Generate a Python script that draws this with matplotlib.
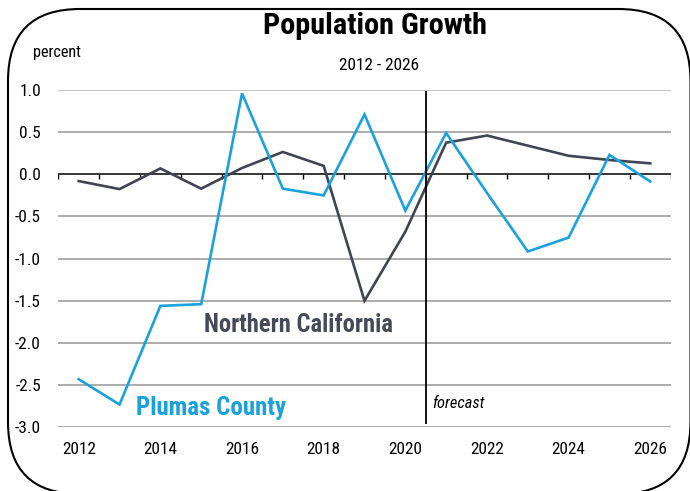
import matplotlib
matplotlib.use('Agg')
import matplotlib.pyplot as plt
from matplotlib import font_manager
from matplotlib.patches import FancyBboxPatch
from matplotlib.transforms import IdentityTransform

names = sorted({f.name for f in font_manager.fontManager.ttflist})
FONT = 'Liberation Sans'
for pref in ['Liberation Sans Narrow', 'Arial Narrow', 'Roboto Condensed',
             'Open Sans Condensed', 'DejaVu Sans Condensed']:
    if pref in names:
        FONT = pref
        break
else:
    for n in names:
        if 'Narrow' in n or 'Condensed' in n:
            FONT = n
            break
plt.rcParams['font.family'] = [FONT, 'DejaVu Sans']

# ---- data ----
years = list(range(2012, 2027))
plumas = [-2.43, -2.73, -1.56, -1.54, 0.96, -0.17, -0.25, 0.71, -0.43,
          0.49, -0.22, -0.915, -0.75, 0.23, -0.085]
norcal = [-0.08, -0.175, 0.07, -0.17, 0.075, 0.265, 0.10, -1.50, -0.68,
          0.375, 0.46, 0.34, 0.22, 0.17, 0.13]
xtick_years = [2012, 2014, 2016, 2018, 2020, 2022, 2024, 2026]
xtick_labels = [str(y) for y in xtick_years]
ytick_vals = [1.0, 0.5, 0.0, -0.5, -1.0, -1.5, -2.0, -2.5, -3.0]
ytick_labels = ['%.1f' % v for v in ytick_vals]
forecast_start = 2020.5

W, H = 690, 491
fig = plt.figure(figsize=(W / 100, H / 100), dpi=100)
ax = fig.add_axes([58.3 / W, 1 - 427.3 / H, (670.7 - 58.3) / W, (427.3 - 90) / H])
ax.set_xlim(2011.5, 2026.5)
ax.set_ylim(-3.0, 1.0)
for s in ax.spines.values():
    s.set_visible(False)

# gridlines
for v in ytick_vals:
    if v == 0:
        continue
    ax.axhline(v, color='#BFBFBF' if v == 1.0 else '#A6A6A6', lw=1.3, zorder=1)
ax.axhline(0, color='black', lw=1.1, zorder=2)
bounds = [2011.5 + k for k in range(len(years) + 1)]
ax.vlines(bounds, -0.06, 0, color='black', lw=1.0, zorder=2)

# series
ax.plot(years, plumas, color='#1BA1DC', lw=1.9, zorder=4, solid_joinstyle='miter')
ax.plot(years, norcal, color='#404553', lw=1.9, zorder=3, solid_joinstyle='miter')

# forecast line
ax.vlines(forecast_start, -2.965, 0.985, color='black', lw=1.3, zorder=5)

ax.set_xticks(xtick_years)
ax.set_xticklabels(xtick_labels)
ax.set_yticks(ytick_vals)
ax.set_yticklabels(ytick_labels)
ax.tick_params(axis='both', length=0, labelsize=11.5, colors='black')
ax.tick_params(axis='x', pad=10.5)
ax.tick_params(axis='y', pad=12.5)

def px(x, y):
    return x / W, 1 - y / H

t_title = fig.text(*px(375, 34), 'Population Growth', ha='center', va='baseline',
                   fontsize=18, fontweight='bold')
t_sub = fig.text(*px(379, 66), '2012 - 2026', ha='center', va='center', fontsize=11)
t_pct = fig.text(*px(32.7, 57.5), 'percent', ha='left', va='baseline', fontsize=11)

t_nc = ax.text(204, H - 331.5, 'Northern California', color='#454A58', fontsize=16,
               fontweight='bold', ha='left', va='baseline', transform=IdentityTransform())
t_pc = ax.text(136, H - 415.5, 'Plumas County', color='#1BA1DC', fontsize=16,
               fontweight='bold', ha='left', va='baseline', transform=IdentityTransform())
t_fc = ax.text(432, H - 403, 'forecast', color='black', fontsize=11, style='italic',
               ha='left', va='center', transform=IdentityTransform())

def fit(t, width):
    for _ in range(3):
        fig.canvas.draw()
        r = fig.canvas.get_renderer()
        w = t.get_window_extent(r).width
        t.set_fontsize(t.get_fontsize() * width / w)

fit(t_title, 224)
fit(t_sub, 80)
fit(t_pct, 48)
fit(t_nc, 189)
fit(t_pc, 151)
fit(t_fc, 52)

# fit tick label size to measured width of "2012" (34 px)
fig.canvas.draw()
r = fig.canvas.get_renderer()
lab = ax.get_xticklabels()[0]
w = lab.get_window_extent(r).width
ax.tick_params(axis='both', labelsize=11.5 * 34 / w)

# rounded border
border = FancyBboxPatch((8, -3), 682.5, 485, boxstyle='round,pad=0,rounding_size=72',
                        transform=IdentityTransform(), fill=False, edgecolor='black',
                        lw=1.5, zorder=10)
fig.add_artist(border)

fig.savefig('out.png', dpi=100)
